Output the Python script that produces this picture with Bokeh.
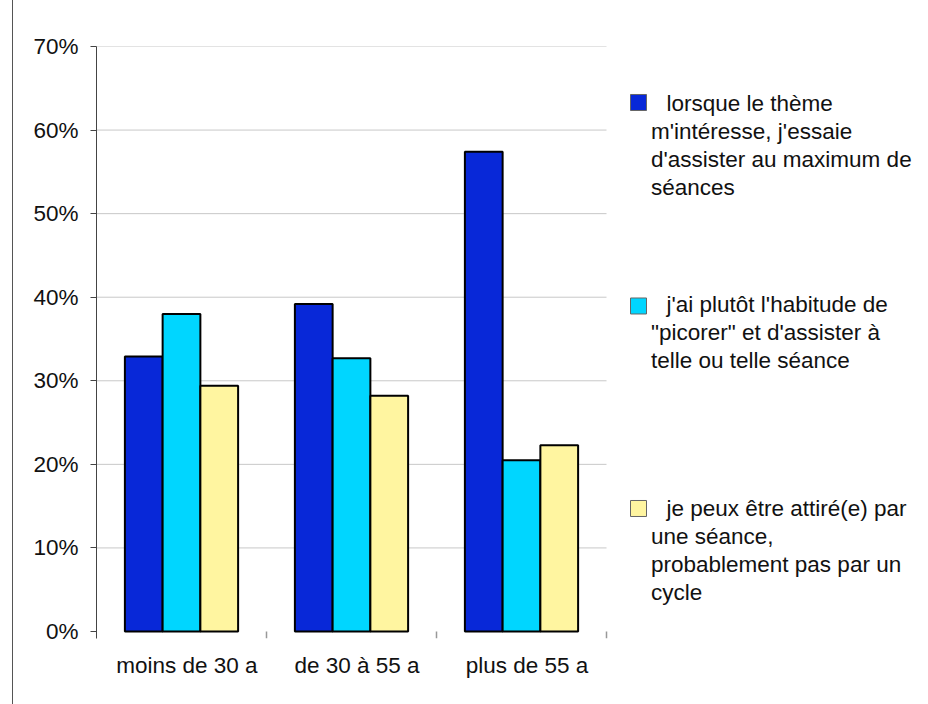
from bokeh.plotting import figure
from bokeh.models import Range1d, FixedTicker, PrintfTickFormatter
from bokeh.core.properties import value
from bokeh.embed import file_html
from bokeh.resources import INLINE

# --- data -----------------------------------------------------------------
categories = ["moins de 30 a", "de 30 à 55 a", "plus de 55 a"]
maximum_seances = [32.9, 39.2, 57.4]   # lorsque le thème m'intéresse...
picorer = [38.0, 32.7, 20.5]           # j'ai plutôt l'habitude de "picorer"...
attire_seance = [29.4, 28.2, 22.3]     # je peux être attiré(e) par une séance...
series = [maximum_seances, picorer, attire_seance]
series_labels = [
    ["lorsque le thème", "m'intéresse, j'essaie", "d'assister au maximum de", "séances"],
    ["j'ai plutôt l'habitude de", "\"picorer\" et d'assister à", "telle ou telle séance"],
    ["je peux être attiré(e) par", "une séance,", "probablement pas par un", "cycle"],
]
y_ticks = [0, 10, 20, 30, 40, 50, 60, 70]

colors = ["#0828D8", "#00D6FF", "#FFF5A0"]
FONT = "Liberation Sans"
FSIZE = "22.5px"

# --- geometry (page pixels) -------------------------------------------------
FIG_W, FIG_H = 915, 704
PAGE_OFFSET = 13          # left margin + border line of the figure
FRAME_LEFT = 96           # page x of the value axis
ZERO_Y = 631              # page y of 0 %
CAT_PX = 170.0            # width of one category slot
PCT_PX = 8.357            # pixels per percent
BOTTOM_EXT = 7            # axis extends a little below 0 %

x_end = (FIG_W - (FRAME_LEFT - PAGE_OFFSET)) / CAT_PX
y_start = -BOTTOM_EXT / PCT_PX


def sx(px):
    return (px - FRAME_LEFT) / CAT_PX


def sy(py):
    return (ZERO_Y - py) / PCT_PX


p = figure(
    width=FIG_W, height=FIG_H,
    x_range=Range1d(0, x_end), y_range=Range1d(y_start, 70),
    output_backend="svg", toolbar_location=None,
    min_border_left=FRAME_LEFT - PAGE_OFFSET, min_border_right=0,
    min_border_top=46, min_border_bottom=FIG_H - (ZERO_Y + BOTTOM_EXT),
    styles={"margin-left": "12px", "border-left": "1px solid #555555"},
)
p.outline_line_color = None
p.xgrid.visible = False
p.ygrid.visible = False
p.background_fill_color = "white"
p.border_fill_color = "white"

# horizontal grid lines across the category area only
grid_y = [t for t in y_ticks if t > 0]
p.segment(x0=[0] * len(grid_y), x1=[len(categories)] * len(grid_y),
          y0=grid_y, y1=grid_y, line_color="#c8c8c8", line_width=1)

# short tick marks between categories
bounds = list(range(1, len(categories) + 1))
p.segment(x0=bounds, x1=bounds, y0=[0] * len(bounds), y1=[y_start] * len(bounds),
          line_color="#999999", line_width=1.5)

# grouped bars
bar_w = 0.222
offsets = [-bar_w, 0.0, bar_w]
for vals, col, off in zip(series, colors, offsets):
    xs = [i + 0.5 + off for i in range(len(categories))]
    p.vbar(x=xs, top=vals, bottom=0, width=bar_w, fill_color=col,
           line_color="black", line_width=2)

# value axis
ya = p.yaxis[0]
ya.ticker = FixedTicker(ticks=y_ticks)
ya.formatter = PrintfTickFormatter(format="%d%%")
ya.minor_tick_line_color = None
ya.major_tick_in = 0
ya.major_tick_out = 6
ya.major_tick_line_color = "#444444"
ya.axis_line_color = "#444444"
ya.major_label_standoff = 12
ya.major_label_text_font = FONT
ya.major_label_text_font_size = FSIZE
ya.major_label_text_color = "#111111"

# category axis
xa = p.xaxis[0]
label_pos = [i + 0.532 for i in range(len(categories))]
xa.ticker = FixedTicker(ticks=label_pos)
xa.major_label_overrides = {pos: c for pos, c in zip(label_pos, categories)}
xa.axis_line_color = None
xa.major_tick_line_color = None
xa.minor_tick_line_color = None
xa.major_label_standoff = 8
xa.major_label_text_font = FONT
xa.major_label_text_font_size = FSIZE
xa.major_label_text_color = "#111111"

# legend drawn beside the bars
first_baselines = [102.7, 303.7, 508.0]
square_centres = [102.0, 305.5, 508.0]
LINE_STEP = 28.0
p.scatter(x=[sx(638)] * 3, y=[sy(c) for c in square_centres], marker="square",
          size=16, fill_color=colors, line_color="#666666", line_width=1)

tx, ty, tt = [], [], []
for lines, base in zip(series_labels, first_baselines):
    for k, line in enumerate(lines):
        tx.append(sx(666) if k == 0 else sx(650.5))
        ty.append(sy(base + k * LINE_STEP))
        tt.append(line)
p.text(x=tx, y=ty, text=tt, text_font=value(FONT), text_font_size=value(FSIZE),
       text_baseline="alphabetic", text_align="left", text_color="#111111")

open("out.html", "w").write(file_html(p, INLINE))
